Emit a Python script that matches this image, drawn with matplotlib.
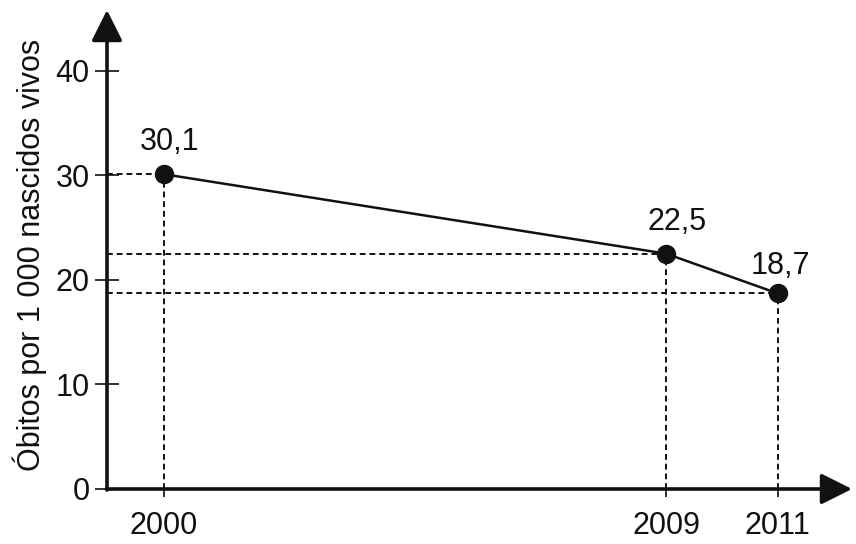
import matplotlib.pyplot as plt

plt.rcParams['font.family'] = ['Liberation Sans', 'DejaVu Sans']

# dados
anos = [2000, 2009, 2011]
obitos = [30.1, 22.5, 18.7]
rotulos = ['30,1', '22,5', '18,7']
y_ticks = [0, 10, 20, 30, 40]

fig = plt.figure(figsize=(8.56, 5.44), dpi=100)
ax = fig.add_axes([107 / 856, 55 / 544, (852 - 107) / 856, (489 - 10) / 544])

x0, x1 = 1998.98, 2012.33
y0, y1 = 0, 45.8
ax.set_xlim(x0, x1)
ax.set_ylim(y0, y1)

for s in ax.spines.values():
    s.set_visible(False)

# eixos com setas
arrow = dict(arrowstyle='-|>,head_length=1.0,head_width=0.5', color='#111111',
             lw=2.6, shrinkA=0, shrinkB=0, mutation_scale=19)
ax.annotate('', xy=(x0, y1), xytext=(x0, y0 - 0.1), arrowprops=arrow, annotation_clip=False)
ax.annotate('', xy=(x1, y0), xytext=(x0 - 0.01, y0), arrowprops=arrow, annotation_clip=False)

# linhas tracejadas
for a, v in zip(anos, obitos):
    ax.plot([x0, a], [v, v], ls=(0, (3, 2)), color='#111111', lw=1.4, zorder=2)
    ax.plot([a, a], [y0, v], ls=(0, (3, 2)), color='#111111', lw=1.4, zorder=2)

ax.plot(anos, obitos, color='#111111', lw=1.8, marker='o', markersize=13, zorder=3)

offs = [(4, 23), (8, 23), (2, 20)]
for a, v, r, o in zip(anos, obitos, rotulos, offs):
    ax.annotate(r, (a, v), xytext=o, textcoords='offset points',
                ha='center', va='center', fontsize=22, color='#111111')

ax.set_yticks(y_ticks)
ax.set_yticklabels([str(t) for t in y_ticks])
ax.set_xticks(anos)
ax.set_xticklabels([str(a) for a in anos])
ax.tick_params(axis='y', direction='inout', length=17, width=1.2, pad=4,
               labelsize=22, colors='#111111')
ax.tick_params(axis='x', direction='out', length=6, width=1.2, pad=10,
               labelsize=22, colors='#111111')

fig.text(30 / 856, 1 - 255 / 544, 'Óbitos por 1 000 nascidos vivos', rotation=90,
         ha='center', va='center', fontsize=22, color='#111111')

fig.savefig('out.png', dpi=100)
